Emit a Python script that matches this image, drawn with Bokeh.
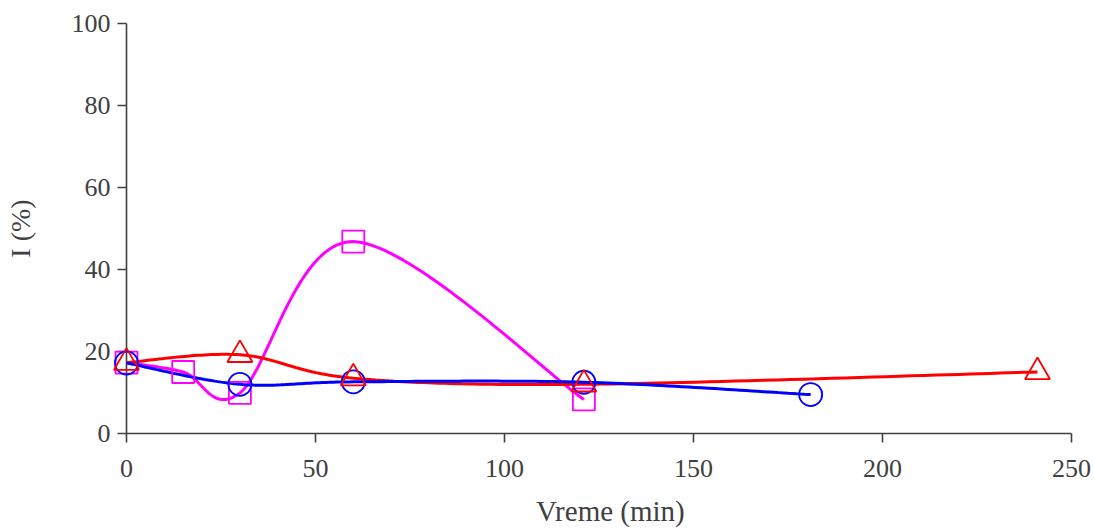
import numpy as np
from bokeh.plotting import figure
from bokeh.models import Range1d, FixedTicker
from bokeh.core.properties import value
from bokeh.embed import file_html
from bokeh.resources import INLINE

# ---- data ----
time_square = [0, 15, 30, 60, 121]
val_square = [17.3, 15.0, 9.9, 46.8, 8.3]
time_circle = [0, 30, 60, 121, 181]
val_circle = [17.2, 12.0, 12.6, 12.5, 9.5]
time_tri = [0, 30, 60, 121, 241]
val_tri = [17.3, 19.2, 13.5, 12.0, 15.0]
x_ticks = [0, 50, 100, 150, 200, 250]
y_ticks = [0, 20, 40, 60, 80, 100]
x_title = "Vreme (min)"
y_title = "I (%)"

FONT = "Liberation Serif"
AXC = "#404040"


def smooth(xs, ys, n=40):
    """Catmull-Rom style smoothed line through the data points (rendering only)."""
    P = np.column_stack([xs, ys]).astype(float)
    ext = np.vstack([P[0], P, P[-1]])
    t = np.linspace(0, 1, n)[:, None]
    out = []
    for i in range(len(P) - 1):
        p0, p1, p2, p3 = ext[i], ext[i + 1], ext[i + 2], ext[i + 3]
        c1 = p1 + (p2 - p0) / 6
        c2 = p2 - (p3 - p1) / 6
        seg = ((1 - t) ** 3) * p1 + 3 * ((1 - t) ** 2) * t * c1 + 3 * (1 - t) * t ** 2 * c2 + t ** 3 * p2
        out.append(seg if i == 0 else seg[1:])
    a = np.vstack(out)
    return a[:, 0], a[:, 1]


p = figure(width=1094, height=529, x_range=Range1d(0, 250), y_range=Range1d(0, 100),
           output_backend="svg", toolbar_location=None,
           min_border_left=126, min_border_right=23, min_border_top=23, min_border_bottom=96)
p.xgrid.visible = False
p.ygrid.visible = False
p.outline_line_color = None
p.background_fill_color = "white"
p.border_fill_color = "white"

for ax, ticks in ((p.xaxis[0], x_ticks), (p.yaxis[0], y_ticks)):
    ax.ticker = FixedTicker(ticks=ticks)
    ax.minor_tick_line_color = None
    ax.major_tick_in = 0
    ax.major_tick_out = 9
    ax.axis_line_color = AXC
    ax.axis_line_width = 1.6
    ax.major_tick_line_color = AXC
    ax.major_tick_line_width = 1.6
    ax.major_label_text_font = FONT
    ax.major_label_text_font_size = "26px"
    ax.major_label_text_color = AXC
    ax.axis_label_text_font = FONT
    ax.axis_label_text_font_style = "normal"
    ax.axis_label_text_font_size = "28px"
    ax.axis_label_text_color = AXC

p.yaxis.axis_label = y_title
p.xaxis.major_label_standoff = 17
p.yaxis.major_label_standoff = 7
p.yaxis.axis_label_standoff = 33

# x-axis title drawn as unclipped text below the tick labels
p.text(x=[128], y=[-19.0], text=[x_title], text_font=value(FONT),
       text_font_size="29px", text_color=AXC, text_align="center",
       text_baseline="middle", level="overlay")

xs, ys = smooth(time_square, val_square)
p.line(xs, ys, line_color="#FF00FF", line_width=3, level="overlay")
xs, ys = smooth(time_tri, val_tri)
p.line(xs, ys, line_color="#FF0000", line_width=3, level="overlay")
xs, ys = smooth(time_circle, val_circle)
p.line(xs, ys, line_color="#0000FF", line_width=3, level="overlay")

p.scatter(time_square, val_square, marker="square", size=22, fill_color=None,
          line_color="#FF00FF", line_width=1.8, level="overlay")
p.scatter(time_circle, val_circle, marker="circle", size=23, fill_color=None,
          line_color="#0000FF", line_width=1.8, level="overlay")
p.scatter(time_tri, val_tri, marker="triangle", size=25, fill_color=None,
          line_color="#FF0000", line_width=1.8, level="overlay")

open("out.html", "w").write(file_html(p, INLINE))
